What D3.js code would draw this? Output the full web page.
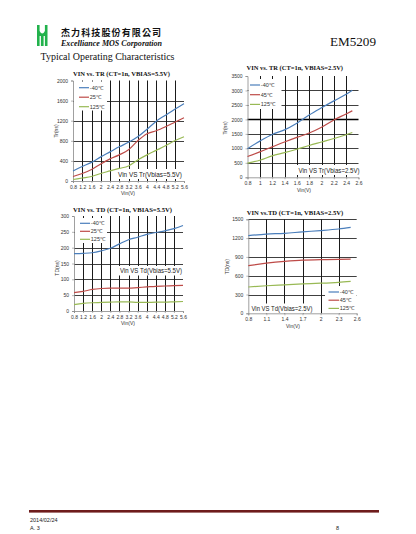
<!DOCTYPE html>
<html><head><meta charset="utf-8">
<script src="https://cdn.jsdelivr.net/npm/d3@7"></script>
<style>body{margin:0;background:#fff}svg{display:block}</style>
</head><body>
<svg id="c" width="416" height="534"></svg>
<script>
// ---------- data ----------
const seriesNamesA = ["-40℃", "25℃", "125℃"];
const seriesNamesB = ["-40℃", "45℃", "125℃"];

// Chart 1: VIN vs TR (VBIAS=5.5V)
const vin55 = [0.8, 1.2, 1.6, 2.0, 2.4, 2.8, 3.2, 3.6, 4.0, 4.4, 4.8, 5.2, 5.6];
const vin55Labels = ["0.8","1.2","1.6","2","2.4","2.8","3.2","3.6","4","4.4","4.8","5.2","5.6"];
const tr55_m40 = [200, 290, 370, 480, 580, 680, 770, 880, 1030, 1190, 1310, 1430, 1540];
const tr55_25  = [90, 150, 230, 340, 440, 520, 620, 800, 940, 1000, 1080, 1170, 1260];
const tr55_125 = [30, 60, 90, 150, 200, 250, 300, 420, 520, 610, 700, 800, 880];
const tr55Ticks = [0, 400, 800, 1200, 1600, 2000];

// Chart 2: VIN vs TR (VBIAS=2.5V)
const vin25tr = [0.8, 1.0, 1.2, 1.4, 1.6, 1.8, 2.0, 2.2, 2.4, 2.5];
const vin25trTicks = [0.8, 1.0, 1.2, 1.4, 1.6, 1.8, 2.0, 2.2, 2.4, 2.6];
const vin25trLabels = ["0.8","1","1.2","1.4","1.6","1.8","2","2.2","2.4","2.6"];
const tr25_m40 = [990, 1250, 1480, 1640, 1870, 2150, 2400, 2640, 2870, 3010];
const tr25_45  = [720, 880, 1050, 1220, 1380, 1530, 1730, 1980, 2190, 2300];
const tr25_125 = [490, 590, 740, 850, 970, 1100, 1220, 1340, 1470, 1550];
const tr25Ticks = [0, 500, 1000, 1500, 2000, 2500, 3000, 3500];

// Chart 3: VIN vs TD (VBIAS=5.5V)
const td55_m40 = [181, 182, 184, 190, 198, 212, 225, 233, 242, 248, 253, 260, 270];
const td55_25  = [58, 62, 68, 71, 72, 72, 72, 74, 76, 78, 79, 80, 81];
const td55_125 = [20, 24, 26, 27, 28, 29, 29, 27, 27, 28, 28, 29, 30];
const td55Ticks = [0, 50, 100, 150, 200, 250, 300];

// Chart 4: VIN vs TD (VBIAS=2.5V)
const vin25td = [0.8, 1.1, 1.4, 1.7, 2.0, 2.3, 2.5];
const vin25tdTicks = [0.8, 1.1, 1.4, 1.7, 2.0, 2.3, 2.6];
const vin25tdLabels = ["0.8","1.1","1.4","1.7","2","2.3","2.6"];
const td25_m40 = [1240, 1265, 1275, 1300, 1320, 1345, 1370];
const td25_45  = [760, 800, 830, 850, 855, 860, 865];
const td25_125 = [420, 440, 455, 470, 480, 495, 510];
const td25Ticks = [0, 300, 600, 900, 1200, 1500];

// ---------- drawing ----------
const svg = d3.select("#c");
const COLORS = ["#4a7ebb", "#be4b48", "#98b954"];
const SANS = "'Liberation Sans', Arial, sans-serif";
const SERIF = "'Liberation Serif', 'Times New Roman', serif";

svg.append("rect").attr("width", 416).attr("height", 534).attr("fill", "#fff");

// header
const logo = svg.append("g");
logo.append("rect").attr("x", 37).attr("y", 25).attr("width", 10.5).attr("height", 21).attr("fill", "#22b24c");
logo.append("path").attr("d", "M39.6,25 L39.6,31 Q42.25,36 44.9,31 L44.9,25 Z").attr("fill", "#fff");
logo.append("rect").attr("x", 39.6).attr("y", 36).attr("width", 1.3).attr("height", 10).attr("fill", "#fff");
logo.append("rect").attr("x", 43.6).attr("y", 36).attr("width", 1.3).attr("height", 10).attr("fill", "#fff");

svg.append("text").attr("x", 61).attr("y", 36).text("杰力科技股份有限公司")
  .attr("font-family", "'Noto Sans CJK TC', 'Noto Sans CJK SC', sans-serif").attr("font-weight", "bold")
  .attr("font-size", 9).attr("textLength", 100).attr("lengthAdjust", "spacing").attr("fill", "#111");
svg.append("text").attr("x", 61).attr("y", 46).text("Excelliance MOS Corporation")
  .attr("font-family", SERIF).attr("font-weight", "bold").attr("font-style", "italic")
  .attr("font-size", 8).attr("textLength", 101).attr("lengthAdjust", "spacingAndGlyphs").attr("fill", "#111");
svg.append("text").attr("x", 40.5).attr("y", 59.5).text("Typical Operating Characteristics")
  .attr("font-family", SERIF).attr("font-size", 9.5).attr("textLength", 134).attr("lengthAdjust", "spacingAndGlyphs").attr("fill", "#111");
svg.append("text").attr("x", 330).attr("y", 46).text("EM5209")
  .attr("font-family", SERIF).attr("font-size", 12).attr("textLength", 46).attr("lengthAdjust", "spacingAndGlyphs").attr("fill", "#111");

// footer
svg.append("rect").attr("x", 29).attr("y", 510).attr("width", 350).attr("height", 2.6).attr("fill", "#6e1c1c");
svg.append("text").attr("x", 30).attr("y", 521.5).text("2014/02/24")
  .attr("font-family", SANS).attr("font-size", 5.5).attr("fill", "#222");
svg.append("text").attr("x", 30).attr("y", 530).text("A. 3")
  .attr("font-family", SANS).attr("font-size", 5.5).attr("fill", "#222");
svg.append("text").attr("x", 336).attr("y", 530).text("8")
  .attr("font-family", SANS).attr("font-size", 5.5).attr("fill", "#222");

function drawChart(c) {
  const g = svg.append("g");
  const x = d3.scaleLinear().domain([c.xTicks[0], c.xTicks[c.xTicks.length - 1]]).range([c.left, c.right]);
  const y = d3.scaleLinear().domain([c.yTicks[0], c.yTicks[c.yTicks.length - 1]]).range([c.bottom, c.top]);

  // grid
  g.selectAll("line.hg").data(c.yTicks.filter(d => d !== 0 && (c.topLine || d !== c.yTicks[c.yTicks.length - 1])))
    .join("line").attr("class", "hg")
    .attr("x1", c.left).attr("x2", c.right)
    .attr("y1", d => Math.round(y(d)) + 0.5).attr("y2", d => Math.round(y(d)) + 0.5)
    .attr("stroke", d => d === c.boldY ? "#000" : "#2a2a2a")
    .attr("stroke-width", d => d === c.boldY ? 1.7 : 0.9);
  g.selectAll("line.vg").data(c.xTicks.slice(1, c.xTicks.length - 1))
    .join("line").attr("class", "vg")
    .attr("x1", d => Math.round(x(d)) + 0.5).attr("x2", d => Math.round(x(d)) + 0.5)
    .attr("y1", y(c.yTicks[c.yTicks.length - 1])).attr("y2", c.bottom)
    .attr("stroke", "#1a1a1a").attr("stroke-width", 1);

  // white boxes
  [c.legend.box, c.note.box].forEach(b => {
    g.append("rect").attr("x", b[0]).attr("y", b[1]).attr("width", b[2]).attr("height", b[3]).attr("fill", "#fff");
  });

  // note text
  g.append("text").attr("x", c.note.x).attr("y", c.note.y).text(c.note.text)
    .attr("font-family", SANS).attr("font-size", 6.6).attr("fill", "#222")
    .attr("textLength", c.note.w).attr("lengthAdjust", "spacingAndGlyphs");

  // axes
  const yAxis = d3.axisLeft(y).tickValues(c.yTicks).tickSize(2).tickPadding(3).tickFormat(d3.format("d"));
  const ga = g.append("g").attr("transform", `translate(${c.left},0)`).call(yAxis);
  const xAxis = d3.axisBottom(x).tickValues(c.xTicks).tickSize(2).tickPadding(2)
    .tickFormat((d, i) => c.xLabels[i]);
  const gb = g.append("g").attr("transform", `translate(0,${c.bottom})`).call(xAxis);
  [ga, gb].forEach(a => {
    a.selectAll("path.domain").attr("stroke", "#888").attr("stroke-width", 0.8);
    a.selectAll(".tick line").attr("stroke", "#888").attr("stroke-width", 0.6);
    a.selectAll("text").attr("font-family", SANS).attr("font-size", 5).attr("fill", "#333");
  });

  // axis titles
  g.append("text").attr("x", c.xTitle[0]).attr("y", c.xTitle[1]).attr("text-anchor", "middle")
    .text("Vin(V)").attr("font-family", SANS).attr("font-size", 5).attr("fill", "#333");
  g.append("text").attr("transform", `translate(${c.yTitle[0]},${c.yTitle[1]}) rotate(-90)`)
    .attr("text-anchor", "middle").text(c.yTitleText)
    .attr("font-family", SANS).attr("font-size", 5).attr("fill", "#333");

  // chart title
  g.append("text").attr("x", c.title[0]).attr("y", c.title[1]).text(c.titleText)
    .attr("font-family", SERIF).attr("font-weight", "bold").attr("font-size", 6.5).attr("fill", "#111")
    .attr("textLength", c.title[2]).attr("lengthAdjust", "spacingAndGlyphs");

  // series lines
  const line = d3.line().x((d, i) => x(c.xs[i])).y(d => y(d)).curve(d3.curveMonotoneX);
  c.series.forEach((s, k) => {
    g.append("path").datum(s).attr("d", line).attr("fill", "none")
      .attr("stroke", COLORS[k]).attr("stroke-width", 1.2);
  });

  // legend
  c.names.forEach((n, k) => {
    const ly = c.legend.y + k * c.legend.dy;
    g.append("line").attr("x1", c.legend.x).attr("x2", c.legend.x + c.legend.len)
      .attr("y1", ly).attr("y2", ly).attr("stroke", COLORS[k]).attr("stroke-width", 1.2);
    g.append("text").attr("x", c.legend.x + c.legend.len + 0.8).attr("y", ly + 2).text(n)
      .attr("font-family", SANS).attr("font-size", 5.5).attr("fill", "#333");
  });
}

drawChart({
  left: 73, right: 184, top: 80.5, bottom: 181,
  xTicks: vin55, xLabels: vin55Labels, yTicks: tr55Ticks, xs: vin55,
  series: [tr55_m40, tr55_25, tr55_125], names: seriesNamesA,
  legend: { x: 79, y: 87.7, dy: 9.5, len: 10, box: [74, 81.5, 33, 29] },
  note: { x: 118, y: 176.5, w: 64, text: "Vin VS Tr(Vbias=5.5V)", box: [116, 169, 67, 10] },
  xTitle: [128, 194.5], yTitle: [58, 131], yTitleText: "Tr(ns)",
  title: [73, 76, 97], titleText: "VIN vs. TR (CT=1n, VBIAS=5.5V)"
});

drawChart({
  left: 247.5, right: 358.5, top: 76, bottom: 177.3,
  xTicks: vin25trTicks, xLabels: vin25trLabels, yTicks: tr25Ticks, xs: vin25tr, boldY: 2000,
  series: [tr25_m40, tr25_45, tr25_125], names: seriesNamesB,
  legend: { x: 250, y: 85, dy: 9.7, len: 10, box: [248.5, 79, 33, 30] },
  note: { x: 298.5, y: 172.5, w: 61, text: "Vin VS Tr(Vbias=2.5V)", box: [296.5, 165, 62, 10] },
  xTitle: [304, 191.5], yTitle: [227, 128], yTitleText: "Tr(ns)",
  title: [246.5, 70, 96.5], titleText: "VIN vs. TR (CT=1n, VBIAS=2.5V)"
});

drawChart({
  left: 74, right: 183, top: 216, bottom: 311,
  xTicks: vin55, xLabels: vin55Labels, yTicks: td55Ticks, xs: vin55,
  series: [td55_m40, td55_25, td55_125], names: seriesNamesA,
  legend: { x: 80, y: 223.3, dy: 8, len: 10, box: [75, 218, 32, 25] },
  note: { x: 120, y: 273, w: 62, text: "Vin VS Td(Vbias=5.5V)", box: [118, 266, 64, 9.5] },
  xTitle: [128, 324.5], yTitle: [59, 268], yTitleText: "TD(ns)",
  title: [73, 212, 99], titleText: "VIN vs. TD (CT=1n, VBIAS=5.5V)"
});

drawChart({
  left: 248.3, right: 356.7, top: 219.3, bottom: 313.3, topLine: true,
  xTicks: vin25tdTicks, xLabels: vin25tdLabels, yTicks: td25Ticks, xs: vin25td,
  series: [td25_m40, td25_45, td25_125], names: seriesNamesB,
  legend: { x: 328.5, y: 292, dy: 8.2, len: 10.5, box: [325, 286, 31.5, 27] },
  note: { x: 251.5, y: 310.5, w: 61, text: "Vin VS Td(Vbias=2.5V)", box: [249.5, 303.5, 64, 9.5] },
  xTitle: [293, 327.5], yTitle: [229, 266.7], yTitleText: "TD(ns)",
  title: [246.7, 214.5, 96.5], titleText: "VIN vs.TD (CT=1n, VBIAS=2.5V)"
});
</script>
</body></html>
